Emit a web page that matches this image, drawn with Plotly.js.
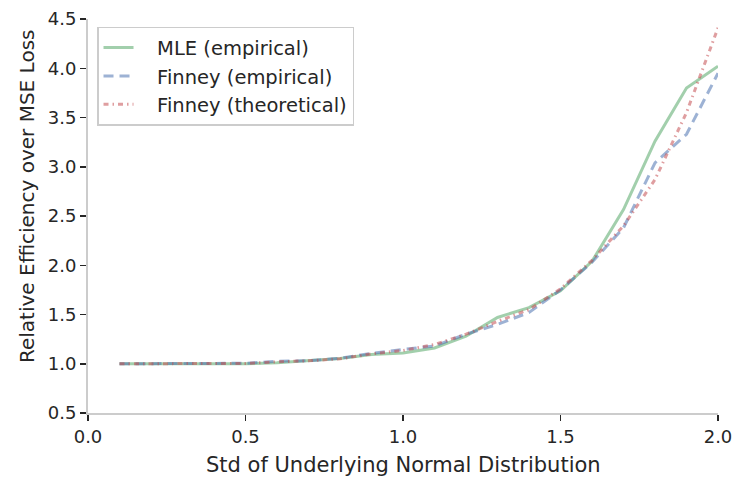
<!DOCTYPE html>
<html>
<head>
<meta charset="utf-8">
<script src="https://cdn.plot.ly/plotly-3.0.1.min.js"></script>
<style>html,body{margin:0;padding:0;background:#fff;}#chart{width:736px;height:479px;}</style>
</head>
<body>
<div id="chart"></div>
<script>
const stdValues = [0.1,0.2,0.3,0.4,0.5,0.6,0.7,0.8,0.9,1.0,1.1,1.2,1.3,1.4,1.5,1.6,1.7,1.8,1.9,2.0];
const mleEmpirical = [1.0,1.0,1.0,1.0,1.0,1.01,1.03,1.054,1.095,1.11,1.16,1.28,1.47,1.57,1.74,2.04,2.565,3.26,3.80,4.02];
const finneyEmpirical = [1.0,1.0,1.0,1.0,1.005,1.025,1.03,1.055,1.105,1.145,1.18,1.30,1.40,1.52,1.75,2.03,2.38,3.04,3.33,3.95];
const finneyTheoretical = [1.0,1.0,1.0,1.0,1.003,1.02,1.03,1.05,1.10,1.135,1.195,1.30,1.43,1.55,1.76,2.05,2.40,2.87,3.55,4.41];
const seriesNames = ['MLE (empirical)','Finney (empirical)','Finney (theoretical)'];
const xTickLabels = ['0.0','0.5','1.0','1.5','2.0'];
const yTickLabels = ['0.5','1.0','1.5','2.0','2.5','3.0','3.5','4.0','4.5'];
const xTitle = 'Std of Underlying Normal Distribution';
const yTitle = 'Relative Efficiency over MSE Loss';

const FONT = '"DejaVu Sans", sans-serif';
const TXT = '#262626';
const PAD = '\u00a0\u00a0\u00a0';
const traces = [
  {x: stdValues, y: mleEmpirical, name: PAD + seriesNames[0], mode: 'lines',
   line: {color: 'rgba(85,168,104,0.55)', width: 3}},
  {x: stdValues, y: finneyEmpirical, name: PAD + seriesNames[1], mode: 'lines',
   line: {color: 'rgba(76,114,176,0.55)', width: 3, dash: '10px,6px'}},
  {x: stdValues, y: finneyTheoretical, name: PAD + seriesNames[2], mode: 'lines',
   line: {color: 'rgba(196,78,82,0.55)', width: 3, dash: '5px,4px,1.5px,4px'}}
];
const axisCommon = {
  showline: true, linecolor: '#cccccc', linewidth: 2,
  ticks: 'outside', ticklen: 6, tickwidth: 1.5, tickcolor: TXT,
  showgrid: false, zeroline: false,
  tickfont: {family: FONT, size: 18, color: TXT}
};
const layout = {
  width: 736, height: 479,
  margin: {l: 88, r: 18, t: 19, b: 66},
  paper_bgcolor: '#fff', plot_bgcolor: '#fff',
  font: {family: FONT, color: TXT},
  xaxis: Object.assign({}, axisCommon, {
    range: [0, 2.0], tickvals: xTickLabels.map(Number), ticktext: xTickLabels
  }),
  yaxis: Object.assign({}, axisCommon, {
    range: [0.5, 4.5], tickvals: yTickLabels.map(Number), ticktext: yTickLabels
  }),
  annotations: [
    {text: xTitle, xref: 'paper', yref: 'paper', x: 0.5, y: 0, yshift: -52,
     xanchor: 'center', yanchor: 'middle', showarrow: false,
     font: {family: FONT, size: 21, color: TXT}},
    {text: yTitle, xref: 'paper', yref: 'paper', x: 0, y: 0.5, xshift: -61, yshift: 19,
     xanchor: 'center', yanchor: 'middle', textangle: -90, showarrow: false,
     font: {family: FONT, size: 20, color: TXT}}
  ],
  legend: {
    x: 0.0143, y: 0.98, xanchor: 'left', yanchor: 'top',
    bgcolor: '#fff', bordercolor: '#cccccc', borderwidth: 1.5,
    font: {family: FONT, size: 19.5, color: TXT},
    itemwidth: 30, tracegroupgap: 0
  },
  showlegend: true
};
Plotly.newPlot('chart', traces, layout, {displayModeBar: false, staticPlot: true});
</script>
</body>
</html>
